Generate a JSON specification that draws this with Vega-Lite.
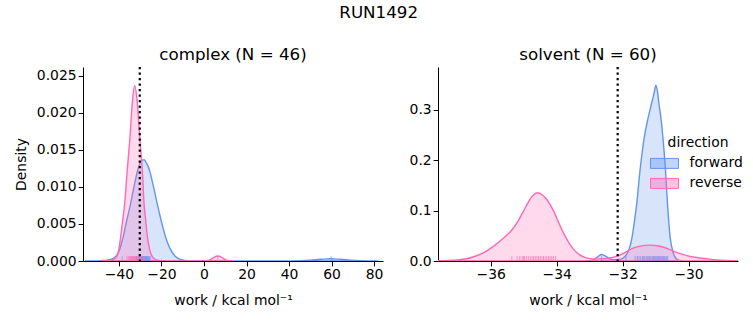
{
"$schema": "https://vega.github.io/schema/vega-lite/v6.json",
"padding": {"left": 14, "top": 4, "right": 5, "bottom": 5},
"title": {"text": "RUN1492", "fontSize": 16.7, "fontWeight": "normal", "anchor": "middle", "color": "black", "offset": 26},
"datasets": {
"curves": [
{"panel":"complex","direction":"forward","work":-56,"density":0},
{"panel":"complex","direction":"forward","work":-50,"density":0.00002},
{"panel":"complex","direction":"forward","work":-47.5,"density":0.00006},
{"panel":"complex","direction":"forward","work":-45.5,"density":0.00012},
{"panel":"complex","direction":"forward","work":-43.5,"density":0.00026},
{"panel":"complex","direction":"forward","work":-41.6,"density":0.00058},
{"panel":"complex","direction":"forward","work":-40,"density":0.0013},
{"panel":"complex","direction":"forward","work":-38,"density":0.00327},
{"panel":"complex","direction":"forward","work":-36.3,"density":0.0055},
{"panel":"complex","direction":"forward","work":-34.5,"density":0.00776},
{"panel":"complex","direction":"forward","work":-32.8,"density":0.0102},
{"panel":"complex","direction":"forward","work":-31.2,"density":0.01223},
{"panel":"complex","direction":"forward","work":-29.7,"density":0.01345},
{"panel":"complex","direction":"forward","work":-28.2,"density":0.01367},
{"panel":"complex","direction":"forward","work":-26.9,"density":0.01315},
{"panel":"complex","direction":"forward","work":-25.6,"density":0.01223},
{"panel":"complex","direction":"forward","work":-23.8,"density":0.0101},
{"panel":"complex","direction":"forward","work":-22,"density":0.00776},
{"panel":"complex","direction":"forward","work":-20,"density":0.0053},
{"panel":"complex","direction":"forward","work":-18.1,"density":0.00327},
{"panel":"complex","direction":"forward","work":-16,"density":0.0017},
{"panel":"complex","direction":"forward","work":-13.3,"density":0.00058},
{"panel":"complex","direction":"forward","work":-11,"density":0.0002},
{"panel":"complex","direction":"forward","work":-9,"density":0.00006},
{"panel":"complex","direction":"forward","work":-6,"density":0.00001},
{"panel":"complex","direction":"forward","work":-2,"density":0},
{"panel":"complex","direction":"forward","work":36,"density":0},
{"panel":"complex","direction":"forward","work":40,"density":0.00001},
{"panel":"complex","direction":"forward","work":45,"density":0.00004},
{"panel":"complex","direction":"forward","work":50,"density":0.00012},
{"panel":"complex","direction":"forward","work":55,"density":0.00023},
{"panel":"complex","direction":"forward","work":59.5,"density":0.0003},
{"panel":"complex","direction":"forward","work":64,"density":0.00023},
{"panel":"complex","direction":"forward","work":69,"density":0.00012},
{"panel":"complex","direction":"forward","work":74,"density":0.00004},
{"panel":"complex","direction":"forward","work":78,"density":0.00001},
{"panel":"complex","direction":"forward","work":82,"density":0},
{"panel":"complex","direction":"reverse","work":-49,"density":0},
{"panel":"complex","direction":"reverse","work":-46,"density":0.00002},
{"panel":"complex","direction":"reverse","work":-44,"density":0.00008},
{"panel":"complex","direction":"reverse","work":-42.5,"density":0.00025},
{"panel":"complex","direction":"reverse","work":-41.1,"density":0.00058},
{"panel":"complex","direction":"reverse","work":-40,"density":0.0016},
{"panel":"complex","direction":"reverse","work":-39.2,"density":0.00327},
{"panel":"complex","direction":"reverse","work":-38.2,"density":0.0055},
{"panel":"complex","direction":"reverse","work":-37.3,"density":0.00776},
{"panel":"complex","direction":"reverse","work":-36.1,"density":0.01223},
{"panel":"complex","direction":"reverse","work":-34.8,"density":0.01671},
{"panel":"complex","direction":"reverse","work":-33.7,"density":0.0214},
{"panel":"complex","direction":"reverse","work":-32.6,"density":0.02366},
{"panel":"complex","direction":"reverse","work":-31.4,"density":0.0215},
{"panel":"complex","direction":"reverse","work":-30.2,"density":0.01671},
{"panel":"complex","direction":"reverse","work":-29,"density":0.01223},
{"panel":"complex","direction":"reverse","work":-28.2,"density":0.00776},
{"panel":"complex","direction":"reverse","work":-27.4,"density":0.0055},
{"panel":"complex","direction":"reverse","work":-26.6,"density":0.00327},
{"panel":"complex","direction":"reverse","work":-25.5,"density":0.0015},
{"panel":"complex","direction":"reverse","work":-24.3,"density":0.00058},
{"panel":"complex","direction":"reverse","work":-22.5,"density":0.00015},
{"panel":"complex","direction":"reverse","work":-20,"density":0.00003},
{"panel":"complex","direction":"reverse","work":-16,"density":0},
{"panel":"complex","direction":"reverse","work":-1,"density":0},
{"panel":"complex","direction":"reverse","work":1,"density":0.00004},
{"panel":"complex","direction":"reverse","work":3,"density":0.0002},
{"panel":"complex","direction":"reverse","work":4.5,"density":0.00045},
{"panel":"complex","direction":"reverse","work":6.5,"density":0.00067},
{"panel":"complex","direction":"reverse","work":8.5,"density":0.00045},
{"panel":"complex","direction":"reverse","work":10,"density":0.0002},
{"panel":"complex","direction":"reverse","work":12,"density":0.00004},
{"panel":"complex","direction":"reverse","work":14,"density":0},
{"panel":"solvent","direction":"forward","work":-33.15,"density":0},
{"panel":"solvent","direction":"forward","work":-33.0,"density":0.0005},
{"panel":"solvent","direction":"forward","work":-32.9,"density":0.002},
{"panel":"solvent","direction":"forward","work":-32.78,"density":0.007},
{"panel":"solvent","direction":"forward","work":-32.64,"density":0.013},
{"panel":"solvent","direction":"forward","work":-32.5,"density":0.009},
{"panel":"solvent","direction":"forward","work":-32.38,"density":0.004},
{"panel":"solvent","direction":"forward","work":-32.25,"density":0.0025},
{"panel":"solvent","direction":"forward","work":-32.1,"density":0.003},
{"panel":"solvent","direction":"forward","work":-31.98,"density":0.006},
{"panel":"solvent","direction":"forward","work":-31.88,"density":0.013},
{"panel":"solvent","direction":"forward","work":-31.8,"density":0.024},
{"panel":"solvent","direction":"forward","work":-31.72,"density":0.045},
{"panel":"solvent","direction":"forward","work":-31.65,"density":0.075},
{"panel":"solvent","direction":"forward","work":-31.57,"density":0.115},
{"panel":"solvent","direction":"forward","work":-31.47,"density":0.181},
{"panel":"solvent","direction":"forward","work":-31.34,"density":0.247},
{"panel":"solvent","direction":"forward","work":-31.24,"density":0.28},
{"panel":"solvent","direction":"forward","work":-31.12,"density":0.313},
{"panel":"solvent","direction":"forward","work":-31.04,"density":0.335},
{"panel":"solvent","direction":"forward","work":-30.99,"density":0.349},
{"panel":"solvent","direction":"forward","work":-30.94,"density":0.335},
{"panel":"solvent","direction":"forward","work":-30.9,"density":0.313},
{"panel":"solvent","direction":"forward","work":-30.83,"density":0.28},
{"panel":"solvent","direction":"forward","work":-30.78,"density":0.247},
{"panel":"solvent","direction":"forward","work":-30.7,"density":0.181},
{"panel":"solvent","direction":"forward","work":-30.64,"density":0.1145},
{"panel":"solvent","direction":"forward","work":-30.56,"density":0.048},
{"panel":"solvent","direction":"forward","work":-30.46,"density":0.0153},
{"panel":"solvent","direction":"forward","work":-30.38,"density":0.005},
{"panel":"solvent","direction":"forward","work":-30.28,"density":0.001},
{"panel":"solvent","direction":"forward","work":-30.15,"density":0},
{"panel":"solvent","direction":"reverse","work":-38.3,"density":0},
{"panel":"solvent","direction":"reverse","work":-37.8,"density":0.0003},
{"panel":"solvent","direction":"reverse","work":-37.4,"density":0.0008},
{"panel":"solvent","direction":"reverse","work":-37,"density":0.002},
{"panel":"solvent","direction":"reverse","work":-36.7,"density":0.005},
{"panel":"solvent","direction":"reverse","work":-36.45,"density":0.0099},
{"panel":"solvent","direction":"reverse","work":-36.2,"density":0.017},
{"panel":"solvent","direction":"reverse","work":-35.92,"density":0.029},
{"panel":"solvent","direction":"reverse","work":-35.62,"density":0.045},
{"panel":"solvent","direction":"reverse","work":-35.36,"density":0.0615},
{"panel":"solvent","direction":"reverse","work":-35.2,"density":0.076},
{"panel":"solvent","direction":"reverse","work":-35.04,"density":0.0946},
{"panel":"solvent","direction":"reverse","work":-34.86,"density":0.117},
{"panel":"solvent","direction":"reverse","work":-34.72,"density":0.13},
{"panel":"solvent","direction":"reverse","work":-34.58,"density":0.1355},
{"panel":"solvent","direction":"reverse","work":-34.45,"density":0.132},
{"panel":"solvent","direction":"reverse","work":-34.3,"density":0.122},
{"panel":"solvent","direction":"reverse","work":-34.1,"density":0.1},
{"panel":"solvent","direction":"reverse","work":-33.88,"density":0.0677},
{"panel":"solvent","direction":"reverse","work":-33.7,"density":0.044},
{"panel":"solvent","direction":"reverse","work":-33.5,"density":0.024},
{"panel":"solvent","direction":"reverse","work":-33.3,"density":0.012},
{"panel":"solvent","direction":"reverse","work":-33.1,"density":0.0062},
{"panel":"solvent","direction":"reverse","work":-32.9,"density":0.0042},
{"panel":"solvent","direction":"reverse","work":-32.7,"density":0.0042},
{"panel":"solvent","direction":"reverse","work":-32.43,"density":0.0055},
{"panel":"solvent","direction":"reverse","work":-32.13,"density":0.0105},
{"panel":"solvent","direction":"reverse","work":-31.95,"density":0.016},
{"panel":"solvent","direction":"reverse","work":-31.73,"density":0.024},
{"panel":"solvent","direction":"reverse","work":-31.5,"density":0.029},
{"panel":"solvent","direction":"reverse","work":-31.17,"density":0.0315},
{"panel":"solvent","direction":"reverse","work":-30.9,"density":0.0297},
{"panel":"solvent","direction":"reverse","work":-30.65,"density":0.025},
{"panel":"solvent","direction":"reverse","work":-30.41,"density":0.018},
{"panel":"solvent","direction":"reverse","work":-30.15,"density":0.0125},
{"panel":"solvent","direction":"reverse","work":-29.91,"density":0.0085},
{"panel":"solvent","direction":"reverse","work":-29.6,"density":0.0055},
{"panel":"solvent","direction":"reverse","work":-29.3,"density":0.0033},
{"panel":"solvent","direction":"reverse","work":-29,"density":0.0018},
{"panel":"solvent","direction":"reverse","work":-28.7,"density":0.0008},
{"panel":"solvent","direction":"reverse","work":-28.4,"density":0.0003},
{"panel":"solvent","direction":"reverse","work":-28.1,"density":0}
],
"rugs": [
{"panel":"complex","direction":"forward","work":-31.8},{"panel":"complex","direction":"forward","work":-30.9},{"panel":"complex","direction":"forward","work":-30.5},{"panel":"complex","direction":"forward","work":-30.2},{"panel":"complex","direction":"forward","work":-29.7},{"panel":"complex","direction":"forward","work":-29.3},{"panel":"complex","direction":"forward","work":-29.1},{"panel":"complex","direction":"forward","work":-28.9},{"panel":"complex","direction":"forward","work":-28.6},{"panel":"complex","direction":"forward","work":-28.4},{"panel":"complex","direction":"forward","work":-28.2},{"panel":"complex","direction":"forward","work":-27.9},{"panel":"complex","direction":"forward","work":-27.6},{"panel":"complex","direction":"forward","work":-27.5},{"panel":"complex","direction":"forward","work":-27.3},{"panel":"complex","direction":"forward","work":-27.0},{"panel":"complex","direction":"forward","work":-26.9},{"panel":"complex","direction":"forward","work":-26.7},{"panel":"complex","direction":"forward","work":-26.4},{"panel":"complex","direction":"forward","work":-26.0},{"panel":"complex","direction":"forward","work":-25.7},{"panel":"complex","direction":"forward","work":-25.3},{"panel":"complex","direction":"forward","work":59.8},
{"panel":"complex","direction":"reverse","work":-38.5},{"panel":"complex","direction":"reverse","work":-36.2},{"panel":"complex","direction":"reverse","work":-35.4},{"panel":"complex","direction":"reverse","work":-34.9},{"panel":"complex","direction":"reverse","work":-34.5},{"panel":"complex","direction":"reverse","work":-34.1},{"panel":"complex","direction":"reverse","work":-33.8},{"panel":"complex","direction":"reverse","work":-33.5},{"panel":"complex","direction":"reverse","work":-33.2},{"panel":"complex","direction":"reverse","work":-32.9},{"panel":"complex","direction":"reverse","work":-32.6},{"panel":"complex","direction":"reverse","work":-32.3},{"panel":"complex","direction":"reverse","work":-32.0},{"panel":"complex","direction":"reverse","work":-31.7},{"panel":"complex","direction":"reverse","work":-31.4},{"panel":"complex","direction":"reverse","work":-31.1},{"panel":"complex","direction":"reverse","work":-30.7},{"panel":"complex","direction":"reverse","work":-30.3},{"panel":"complex","direction":"reverse","work":-29.8},{"panel":"complex","direction":"reverse","work":-29.2},{"panel":"complex","direction":"reverse","work":-28.5},{"panel":"complex","direction":"reverse","work":-27.4},{"panel":"complex","direction":"reverse","work":6.5},
{"panel":"solvent","direction":"forward","work":-32.64},{"panel":"solvent","direction":"forward","work":-31.9},{"panel":"solvent","direction":"forward","work":-31.62},{"panel":"solvent","direction":"forward","work":-31.55},{"panel":"solvent","direction":"forward","work":-31.5},{"panel":"solvent","direction":"forward","work":-31.45},{"panel":"solvent","direction":"forward","work":-31.4},{"panel":"solvent","direction":"forward","work":-31.36},{"panel":"solvent","direction":"forward","work":-31.32},{"panel":"solvent","direction":"forward","work":-31.28},{"panel":"solvent","direction":"forward","work":-31.24},{"panel":"solvent","direction":"forward","work":-31.2},{"panel":"solvent","direction":"forward","work":-31.17},{"panel":"solvent","direction":"forward","work":-31.14},{"panel":"solvent","direction":"forward","work":-31.1},{"panel":"solvent","direction":"forward","work":-31.07},{"panel":"solvent","direction":"forward","work":-31.04},{"panel":"solvent","direction":"forward","work":-31.01},{"panel":"solvent","direction":"forward","work":-30.98},{"panel":"solvent","direction":"forward","work":-30.95},{"panel":"solvent","direction":"forward","work":-30.92},{"panel":"solvent","direction":"forward","work":-30.89},{"panel":"solvent","direction":"forward","work":-30.86},{"panel":"solvent","direction":"forward","work":-30.83},{"panel":"solvent","direction":"forward","work":-30.8},{"panel":"solvent","direction":"forward","work":-30.77},{"panel":"solvent","direction":"forward","work":-30.74},{"panel":"solvent","direction":"forward","work":-30.71},{"panel":"solvent","direction":"forward","work":-30.67},{"panel":"solvent","direction":"forward","work":-30.63},
{"panel":"solvent","direction":"reverse","work":-35.36},{"panel":"solvent","direction":"reverse","work":-35.2},{"panel":"solvent","direction":"reverse","work":-35.12},{"panel":"solvent","direction":"reverse","work":-35.05},{"panel":"solvent","direction":"reverse","work":-35.0},{"panel":"solvent","direction":"reverse","work":-34.98},{"panel":"solvent","direction":"reverse","work":-34.92},{"panel":"solvent","direction":"reverse","work":-34.86},{"panel":"solvent","direction":"reverse","work":-34.8},{"panel":"solvent","direction":"reverse","work":-34.75},{"panel":"solvent","direction":"reverse","work":-34.7},{"panel":"solvent","direction":"reverse","work":-34.65},{"panel":"solvent","direction":"reverse","work":-34.6},{"panel":"solvent","direction":"reverse","work":-34.55},{"panel":"solvent","direction":"reverse","work":-34.5},{"panel":"solvent","direction":"reverse","work":-34.45},{"panel":"solvent","direction":"reverse","work":-34.4},{"panel":"solvent","direction":"reverse","work":-34.35},{"panel":"solvent","direction":"reverse","work":-34.3},{"panel":"solvent","direction":"reverse","work":-34.25},{"panel":"solvent","direction":"reverse","work":-34.2},{"panel":"solvent","direction":"reverse","work":-34.15},{"panel":"solvent","direction":"reverse","work":-34.1},{"panel":"solvent","direction":"reverse","work":-34.03},
{"panel":"solvent","direction":"reverse","work":-31.55},{"panel":"solvent","direction":"reverse","work":-31.35},{"panel":"solvent","direction":"reverse","work":-31.2},{"panel":"solvent","direction":"reverse","work":-31.05},{"panel":"solvent","direction":"reverse","work":-30.9},{"panel":"solvent","direction":"reverse","work":-30.75}
],
"refs": [
{"panel":"complex","work":-30.2},
{"panel":"solvent","work":-32.15}
]
},
"config": {
"font": "DejaVu Sans",
"view": {"stroke": null},
"axis": {"grid": false, "domainColor": "black", "tickColor": "black", "labelColor": "black", "titleColor": "black", "labelFontSize": 13.9, "titleFontSize": 13.9, "titleFontWeight": "normal", "tickSize": 4.86, "labelPadding": 2, "titlePadding": 12, "zindex": 1, "domainWidth": 1, "tickWidth": 1, "labelOverlap": false},
"axisY": {"titlePadding": 8},
"title": {"fontSize": 16.7, "fontWeight": "normal", "color": "black", "offset": 2},
"legend": {"titleFontSize": 13.9, "labelFontSize": 13.9, "titleFontWeight": "normal", "titleColor": "black", "labelColor": "black", "titleAnchor": "middle", "symbolStrokeWidth": 1, "titlePadding": 3, "padding": 0},
"concat": {"spacing": 26}
},
"resolve": {"scale": {"fill": "independent", "stroke": "independent", "color": "independent"}, "legend": {"fill": "independent", "stroke": "independent", "color": "independent"}},
"hconcat": [
{
"width": 300, "height": 194,
"title": {"text": "complex (N = 46)"},
"layer": [
{"data": {"name": "curves"}, "transform": [{"filter": "datum.panel === 'complex'"}],
 "mark": {"type": "area", "fillOpacity": 0.25, "strokeWidth": 1.4, "clip": true, "interpolate": "monotone"},
 "encoding": {
  "x": {"field": "work", "type": "quantitative", "scale": {"domain": [-56.9, 84.2], "nice": false, "zero": false}, "axis": {"values": [-40, -20, 0, 20, 40, 60, 80], "title": "work / kcal mol⁻¹", "format": "d"}},
  "y": {"field": "density", "type": "quantitative", "stack": null, "scale": {"domain": [0, 0.0262], "nice": false}, "axis": {"values": [0, 0.005, 0.01, 0.015, 0.02, 0.025], "format": ".3f", "title": "Density"}},
  "fill": {"field": "direction", "type": "nominal", "scale": {"domain": ["forward", "reverse"], "range": ["#6495ED", "#FF69B4"]}, "legend": null},
  "stroke": {"field": "direction", "type": "nominal", "scale": {"domain": ["forward", "reverse"], "range": ["#6495ED", "#FF69B4"]}, "legend": null}
 }},
{"data": {"name": "rugs"}, "transform": [{"filter": "datum.panel === 'complex'"}],
 "mark": {"type": "rule", "strokeWidth": 1, "opacity": 0.7, "clip": true},
 "encoding": {
  "x": {"field": "work", "type": "quantitative", "axis": {"values": [-40, -20, 0, 20, 40, 60, 80], "title": "work / kcal mol⁻¹", "format": "d"}},
  "y": {"datum": 0, "axis": {"values": [0, 0.005, 0.01, 0.015, 0.02, 0.025], "format": ".3f", "title": "Density"}},
  "y2": {"datum": 0.00065},
  "color": {"field": "direction", "type": "nominal", "scale": {"domain": ["forward", "reverse"], "range": ["#6495ED", "#FF69B4"]}, "legend": null}
 }},
{"data": {"name": "refs"}, "transform": [{"filter": "datum.panel === 'complex'"}],
 "mark": {"type": "rule", "color": "black", "strokeWidth": 2.2, "strokeDash": [2.2, 3.3]},
 "encoding": {"x": {"field": "work", "type": "quantitative", "axis": {"values": [-40, -20, 0, 20, 40, 60, 80], "title": "work / kcal mol⁻¹", "format": "d"}}}}
]
},
{
"width": 300, "height": 194,
"title": {"text": "solvent (N = 60)"},
"layer": [
{"data": {"name": "curves"}, "transform": [{"filter": "datum.panel === 'solvent'"}],
 "mark": {"type": "area", "fillOpacity": 0.25, "strokeWidth": 1.4, "clip": true, "interpolate": "monotone"},
 "encoding": {
  "x": {"field": "work", "type": "quantitative", "scale": {"domain": [-37.6, -28.5], "nice": false, "zero": false}, "axis": {"values": [-36, -34, -32, -30], "title": "work / kcal mol⁻¹", "format": "d"}},
  "y": {"field": "density", "type": "quantitative", "stack": null, "scale": {"domain": [0, 0.385], "nice": false}, "axis": {"values": [0, 0.1, 0.2, 0.3], "format": ".1f", "title": null}},
  "fill": {"field": "direction", "type": "nominal", "scale": {"domain": ["forward", "reverse"], "range": ["#6495ED", "#FF69B4"]}, "legend": {"title": "direction", "orient": "none", "legendX": 216, "legendY": 69, "symbolType": "M-1.4,-0.5H1.4V0.5H-1.4Z", "symbolSize": 400, "labelOffset": 14.6, "encode": {"symbols": {"update": {"fillOpacity": {"value": 0.4}, "strokeOpacity": {"value": 1}}}}}},
  "stroke": {"field": "direction", "type": "nominal", "scale": {"domain": ["forward", "reverse"], "range": ["#6495ED", "#FF69B4"]}, "legend": {"title": "direction", "orient": "none", "legendX": 216, "legendY": 69, "symbolType": "M-1.4,-0.5H1.4V0.5H-1.4Z", "symbolSize": 400, "labelOffset": 14.6, "encode": {"symbols": {"update": {"fillOpacity": {"value": 0.4}, "strokeOpacity": {"value": 1}}}}}}
 }},
{"data": {"name": "rugs"}, "transform": [{"filter": "datum.panel === 'solvent'"}],
 "mark": {"type": "rule", "strokeWidth": 1, "opacity": 0.7, "clip": true},
 "encoding": {
  "x": {"field": "work", "type": "quantitative", "axis": {"values": [-36, -34, -32, -30], "title": "work / kcal mol⁻¹", "format": "d"}},
  "y": {"datum": 0, "axis": {"values": [0, 0.1, 0.2, 0.3], "format": ".1f", "title": null}},
  "y2": {"datum": 0.0096},
  "color": {"field": "direction", "type": "nominal", "scale": {"domain": ["forward", "reverse"], "range": ["#6495ED", "#FF69B4"]}, "legend": null}
 }},
{"data": {"name": "refs"}, "transform": [{"filter": "datum.panel === 'solvent'"}],
 "mark": {"type": "rule", "color": "black", "strokeWidth": 2.2, "strokeDash": [2.2, 3.3]},
 "encoding": {"x": {"field": "work", "type": "quantitative", "axis": {"values": [-36, -34, -32, -30], "title": "work / kcal mol⁻¹", "format": "d"}}}}
]
}
]
}
